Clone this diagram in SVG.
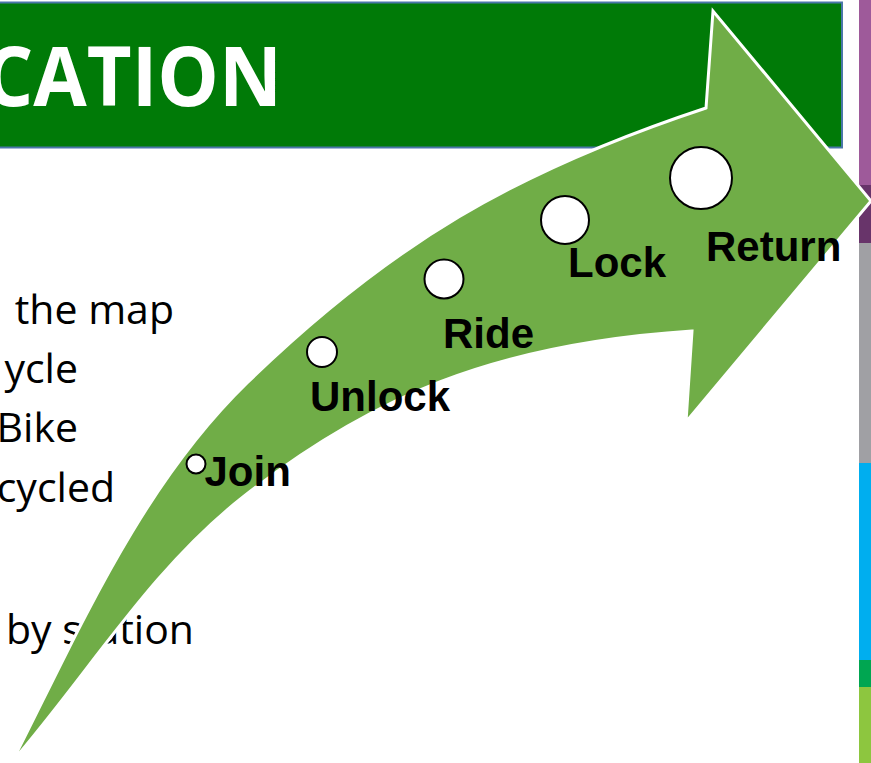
<svg xmlns="http://www.w3.org/2000/svg" width="871" height="763" viewBox="0 0 871 763">
<style>
.body{font-family:"Open Sans","Liberation Sans",sans-serif;font-size:41px;fill:#000}
.lbl{font-family:"Liberation Sans",Arial,sans-serif;font-size:42px;font-weight:bold;fill:#000}
.dot{fill:#fff;stroke:#000;stroke-width:2}
</style>
<rect width="871" height="763" fill="#fff"/>
<g id="banner">
<rect x="-3" y="2.5" width="845" height="145" fill="#007A07" stroke="#4A76A8" stroke-width="2"/>
<text x="-16" y="106" textLength="298" lengthAdjust="spacingAndGlyphs" style="font-family:'Open Sans','Liberation Sans',sans-serif;font-size:83px;font-weight:bold;fill:#fff">CATION</text>
</g>
<g id="sidebar">
<rect x="859" y="0" width="12" height="185" fill="#9E5A9A"/>
<rect x="859" y="185" width="12" height="58" fill="#68346A"/>
<rect x="859" y="243" width="12" height="220" fill="#A0A0A4"/>
<rect x="859" y="463" width="12" height="197" fill="#00AEEF"/>
<rect x="859" y="660" width="12" height="27" fill="#00A651"/>
<rect x="859" y="687" width="12" height="76" fill="#8DC63F"/>
</g>
<g id="bullets">
<text class="body" x="174" y="324" text-anchor="end">the map</text>
<text class="body" x="78" y="383" text-anchor="end">ycle</text>
<text class="body" x="78" y="442" text-anchor="end">Bike</text>
<text class="body" x="115" y="502" text-anchor="end">cycled</text>
<text class="body" x="194" y="644" text-anchor="end">by station</text>
</g>
<g id="connectors">
<path id="arrow" fill="#70AD47" stroke="#fff" stroke-width="3" stroke-linejoin="miter" d="M706,108 L713,11 L871,201 L686,422 L692,331 C492,344 369.1,398.4 243,497 C150.8,569.1 88.5,673.5 12,762 C79.6,629.2 140.2,486.9 247,383 C390.4,243.6 516,170.8 706,108 Z"/>
</g>
<g id="join"><circle class="dot" cx="196" cy="464" r="9.5"/><text class="lbl" x="204.5" y="486">Join</text></g>
<g id="unlock"><circle class="dot" cx="322" cy="352" r="15"/><text class="lbl" x="310" y="411">Unlock</text></g>
<g id="ride"><circle class="dot" cx="444" cy="279" r="19.5"/><text class="lbl" x="443" y="347.5">Ride</text></g>
<g id="lock"><circle class="dot" cx="565" cy="220" r="24"/><text class="lbl" x="568" y="277">Lock</text></g>
<g id="return"><circle class="dot" cx="701" cy="178" r="31"/><text class="lbl" x="706" y="261">Return</text></g>
</svg>
